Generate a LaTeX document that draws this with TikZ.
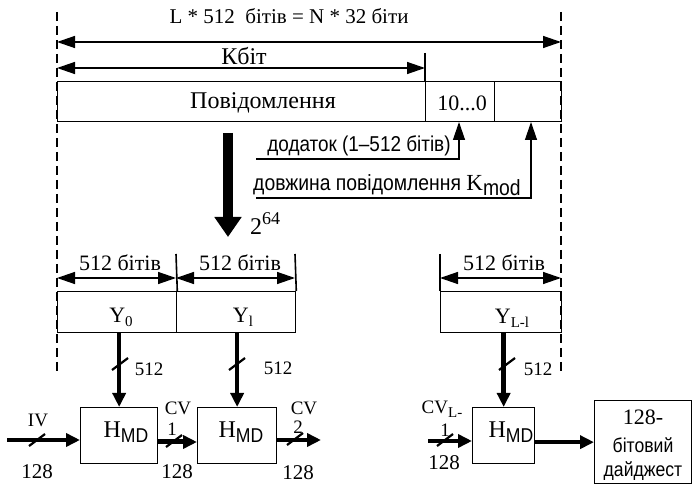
\documentclass[tikz,border=0pt]{standalone}
\usepackage{fontspec}
\setmainfont{Liberation Serif}
\newfontfamily\sn[FakeStretch=0.88]{Liberation Sans}
\usetikzlibrary{arrows.meta,calc}
\begin{document}
\begin{tikzpicture}[x=1pt,y=-1pt,
  lab/.style={inner sep=0pt,font=\fontsize{22}{22}\selectfont},
  labs/.style={inner sep=0pt,font=\fontsize{19}{19}\selectfont},
  labn/.style={inner sep=0pt,font=\fontsize{21}{21}\selectfont},
  boxst/.style={draw,line width=1.3pt,inner sep=0pt,anchor=north west},
  dim/.style={line width=1.4pt,{Triangle[length=18pt,width=12pt]}-{Triangle[length=18pt,width=12pt]}},
  tick/.style={line width=1.6pt},
  dashline/.style={line width=1.8pt,dash pattern=on 9pt off 5pt},
  upar/.style={line width=1.3pt,-{Triangle[length=18pt,width=12pt]}},
  bigar/.style={line width=10pt,-{Triangle[length=20pt,width=26pt]}},
  vin/.style={line width=4.5pt,-{Triangle[length=14pt,width=13pt]}},
  hin/.style={line width=3.5pt,-{Triangle[length=14pt,width=13pt]}},
  slash/.style={line width=2.2pt},
]
\useasboundingbox (0,0) rectangle (694,486);

% boxes
\node[boxst,minimum width=368,minimum height=40] (msg) at (57,81) {};
\node[boxst,minimum width=69,minimum height=40] (pad) at (425,81) {};
\node[boxst,minimum width=67,minimum height=40] (len) at (494,81) {};
\node[boxst,minimum width=119,minimum height=41] (y0) at (57,291) {};
\node[boxst,minimum width=119,minimum height=41] (y1) at (176,291) {};
\node[boxst,minimum width=121,minimum height=41] (yl) at (440,291) {};
\node[boxst,minimum width=77,minimum height=56] (h1) at (80,407) {};
\node[boxst,minimum width=79,minimum height=56] (h2) at (197,407) {};
\node[boxst,minimum width=62,minimum height=56] (h3) at (472,407) {};
\node[boxst,minimum width=97,minimum height=83] (dig) at (594,400) {};

% dashed guides
\coordinate (dlt) at (57,12); \coordinate (dlb) at (57,373);
\coordinate (drt) at (561,12); \coordinate (drb) at (561,375);
\draw[dashline] (dlt) -- (dlb);
\draw[dashline] (drt) -- (drb);

% top dimension arrows
\coordinate (ta) at (57,42); \coordinate (tb) at (561,42);
\draw[dim] (ta) -- (tb);
\node[inner sep=0pt,font=\fontsize{21}{21}\selectfont] (ttxt) at (289,16) {L * 512\ \ бітів = N * 32 біти};
\coordinate (ka) at (57,68); \coordinate (kb) at (425,68);
\draw[dim] (ka) -- (kb);
\coordinate (kt) at (425,53);
\draw[tick] (kt) -- (pad.north west);
\node[inner sep=0pt,font=\fontsize{24}{24}\selectfont] (ktxt) at (244,56) {Кбіт};

% texts in message
\node[inner sep=0pt,font=\fontsize{24}{24}\selectfont] (mtxt) at (263,103) {Повідомлення};
\node[lab] (ptxt) at (462,103) {10...0};

% padding / length arrows
\coordinate (a1s) at (256,159); \coordinate (a1e) at (459,122);
\draw[upar] (a1s) -| (a1e);
\node[inner sep=0pt,font=\sn\fontsize{21.5}{21.5}\selectfont] (dtxt) at (359,146) {додаток (1–512 бітів)};
\coordinate (a2s) at (256,198); \coordinate (a2e) at (531,122);
\draw[upar] (a2s) -| (a2e);
\node[inner sep=0pt,font=\sn\fontsize{22}{22}\selectfont] (ltxt) at (387,185) {довжина повідомлення {\rmfamily\fontsize{23}{23}\selectfont K}\raisebox{-5pt}{mod}};

% big arrow
\coordinate (bs) at (228,133); \coordinate (be) at (228,237);
\draw[bigar] (bs) -- (be);
\node[inner sep=0pt,anchor=west,font=\fontsize{24}{24}\selectfont] (ptw) at (250,224) {2\raisebox{10pt}{\fontsize{18}{18}\selectfont 64}};

% 512-bit dimension arrows
\coordinate (d0a) at (57,278); \coordinate (d0b) at (176,278);
\coordinate (d1b) at (295,278);
\coordinate (dla) at (440,278); \coordinate (dlb2) at (561,278);
\draw[dim] (d0a) -- (d0b);
\draw[dim] (d0b) -- (d1b);
\draw[dim] (dla) -- (dlb2);
\coordinate (t1) at (176,254); \coordinate (t2) at (295,254); \coordinate (t3) at (440,254);
\draw[tick] (t1) -- (y0.north east);
\draw[tick] (t2) -- (y1.north east);
\draw[tick] (t3) -- (yl.north west);
\node[lab] (b0) at (120,263) {512 бітів};
\node[lab] (b1) at (240,263) {512 бітів};
\node[lab] (bl) at (504,263) {512 бітів};

% Y labels
\node[lab] (y0t) at (121,317) {Y\raisebox{-4pt}{\fontsize{15}{15}\selectfont 0}};
\node[lab] (y1t) at (243,317) {Y\raisebox{-4pt}{\fontsize{15}{15}\selectfont l}};
\node[lab] (ylt) at (512,318) {Y\raisebox{-4pt}{\fontsize{15}{15}\selectfont L-l}};

% vertical inputs to H
\draw[vin] (h1.north |- y0.south) -- (h1.north);
\draw[vin] (h2.north |- y1.south) -- (h2.north);
\draw[vin] (h3.north |- yl.south) -- (h3.north);
\coordinate (s1) at (120,364); \coordinate (s2) at (237,364); \coordinate (s3) at (507,364);
\draw[slash] ($(s1)+(-8,6)$) -- ($(s1)+(8,-6)$);
\draw[slash] ($(s2)+(-8,6)$) -- ($(s2)+(8,-6)$);
\draw[slash] ($(s3)+(-8,6)$) -- ($(s3)+(8,-6)$);
\node[labs] (n1) at (149,369) {512};
\node[labs] (n2) at (278,368) {512};
\node[labs] (n3) at (538,369) {512};

% H labels
\node[inner sep=0pt,font=\fontsize{24}{24}\selectfont] (h1t) at (126,432) {H\raisebox{-5pt}{\sn\fontsize{20}{20}\selectfont MD}};
\node[inner sep=0pt,font=\fontsize{24}{24}\selectfont] (h2t) at (241,432) {H\raisebox{-5pt}{\sn\fontsize{20}{20}\selectfont MD}};
\node[inner sep=0pt,font=\fontsize{24}{24}\selectfont] (h3t) at (511,432) {H\raisebox{-5pt}{\sn\fontsize{20}{20}\selectfont MD}};

% horizontal chain
\coordinate (iv) at (7,440);
\draw[hin] (iv) -- (iv -| h1.west);
\draw[hin,line width=5pt] (h1.east |- 0,442) -- (h2.west |- 0,442);
\coordinate (cv2e) at (321,440);
\draw[hin,line width=4pt] (h2.east |- cv2e) -- (cv2e);
\coordinate (cvl) at (428,441);
\draw[hin] (cvl) -- (cvl -| h3.west);
\draw[hin,line width=4pt] (h3.east |- dig.west) -- (dig.west);
\coordinate (s4) at (37,440); \coordinate (s5) at (174,441);
\coordinate (s6) at (295,439); \coordinate (s7) at (445,440);
\draw[slash] ($(s4)+(-8,6)$) -- ($(s4)+(8,-6)$);
\draw[slash] ($(s5)+(-8,6)$) -- ($(s5)+(8,-6)$);
\draw[slash] ($(s6)+(-8,6)$) -- ($(s6)+(8,-6)$);
\draw[slash] ($(s7)+(-8,6)$) -- ($(s7)+(8,-6)$);

\node[labs] (ivt) at (38,420) {IV};
\node[labn] (c1a) at (37,472) {128};
\node[labs] (cv1) at (178,408) {CV};
\node[labs] (cv1n) at (172,429) {1};
\node[labn] (c1b) at (177,472) {128};
\node[labs] (cv2) at (304,408) {CV};
\node[labs] (cv2n) at (298,427) {2};
\node[labn] (c2b) at (298,473) {128};
\node[labs] (cvl1) at (442,409) {CV\raisebox{-4pt}{\fontsize{15}{15}\selectfont L-}};
\node[labs] (cvln) at (445,430) {1};
\node[labn] (c3b) at (444,463) {128};

% digest
\node[lab] (dg1) at (643,417) {128-};
\node[inner sep=0pt,font=\sn\fontsize{20}{20}\selectfont] (dg2) at (643,445) {бітовий};
\node[inner sep=0pt,font=\sn\fontsize{20}{20}\selectfont] (dg3) at (643,471) {дайджест};
\end{tikzpicture}
\end{document}
